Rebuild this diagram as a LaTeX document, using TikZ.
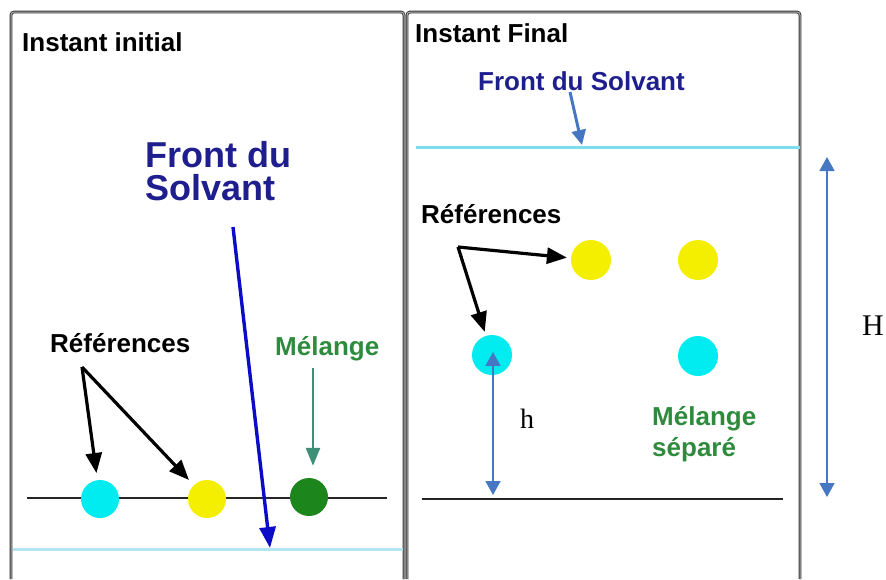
\documentclass[tikz,border=0pt]{standalone}
\usepackage{fontspec}
\setmainfont{Liberation Sans}
\newfontfamily\timesfont{Liberation Serif}
\usetikzlibrary{arrows.meta,positioning,calc}
\definecolor{ccmcyan}{HTML}{00ECF0}
\definecolor{ccmyellow}{HTML}{F4EE00}
\definecolor{ccmgreen}{HTML}{1C861C}
\definecolor{ccmmix}{HTML}{2E8B3E}
\definecolor{ccmmixarr}{HTML}{3E8F78}
\definecolor{ccmnavy}{HTML}{1E1E8E}
\definecolor{ccmblue}{HTML}{0C0CC8}
\definecolor{ccmword}{HTML}{4677C2}
\definecolor{ccmfrontA}{HTML}{B4E6F0}
\definecolor{ccmfrontB}{HTML}{7EDFEC}
\tikzset{
  lbl/.style={font=\bfseries\fontsize{26}{31}\selectfont, inner sep=0pt, align=left},
  big/.style={font=\bfseries\fontsize{36}{33}\selectfont, inner sep=0pt, align=left},
  serif/.style={font=\timesfont\fontsize{28}{30}\selectfont, inner sep=0pt},
  dot/.style={circle, minimum size=38pt, inner sep=0pt},
  panel/.style={draw=black!80, line width=0.9pt, double=black!30, double distance=1pt, rounded corners=3pt},
  base/.style={draw=black!85, line width=1.6pt},
  refarr/.style={-{Triangle[length=20pt,width=16pt]}, line width=3.2pt, color=black},
  mixarr/.style={-{Triangle[length=18pt,width=14pt]}, line width=2.6pt, color=ccmmixarr},
  frontarr/.style={-{Triangle[length=21pt,width=16pt]}, line width=3.4pt, color=ccmblue},
  wordarr/.style={-{Triangle[length=15pt,width=14pt]}, line width=3pt, color=ccmword},
  dim/.style={{Triangle[length=14pt,width=15pt]}-{Triangle[length=14pt,width=15pt]}, line width=1.6pt, color=ccmword},
}
\begin{document}
\begin{tikzpicture}[x=1pt, y=-1pt]
  \useasboundingbox (0,0) rectangle (886,579);
  % the two plates
  \draw[panel] (11,579) -- (11,12) -- (404,12) -- (404,579);
  \draw[panel] (407,579) -- (407,12) -- (800,12) -- (800,579);

  % initial instant
  \node[lbl, anchor=base west] (tinit) at (22,51) {Instant initial};
  \node[big, anchor=north west, text=ccmnavy] (frontl) at (145,141) {Front du\\Solvant};
  \node[lbl, anchor=base west] (refl) at (50,352) {Références};
  \node[lbl, anchor=base west, text=ccmmix] (mixl) at (275,355) {Mélange};
  \draw[draw=ccmfrontA, line width=3pt] (13,549) -- (403,549);
  \draw[base] (27,498) -- (387,498);
  \node[dot, fill=ccmcyan] (c1) at (100,499) {};
  \node[dot, fill=ccmyellow] (y1) at (207,499) {};
  \node[dot, fill=ccmgreen] (g1) at (309,497) {};
  \coordinate (apexl) at (82,367);
  \coordinate (mixtop) at (313,368);
  \coordinate (ftop) at (233,227);
  \coordinate (ftip) at (270,548);
  \foreach \d in {c1,y1} \draw[refarr, shorten >=7pt] (apexl) -- (\d);
  \draw[mixarr, shorten >=12pt] (mixtop) -- (mixtop |- g1.north);
  \draw[frontarr] (ftop) -- (ftip);

  % final instant
  \node[lbl, anchor=base west] (tfinal) at (415,42) {Instant Final};
  \node[lbl, anchor=base west, text=ccmnavy] (frontr) at (478,90) {Front du Solvant};
  \node[lbl, anchor=base west] (refr) at (421,223) {Références};
  \node[lbl, anchor=north west, text=ccmmix] (mixr) at (652,406) {Mélange\\séparé};
  \draw[draw=ccmfrontB, line width=3pt] (416,147) -- (800,147);
  \draw[base] (422,499) -- (783,499);
  \node[dot, minimum size=40pt, fill=ccmyellow] (y2) at (591,260) {};
  \node[dot, minimum size=40pt, fill=ccmyellow] (y3) at (698,260) {};
  \node[dot, minimum size=40pt, fill=ccmcyan] (c2) at (492,355) {};
  \node[dot, minimum size=40pt, fill=ccmcyan] (c3) at (698,356) {};
  \coordinate (apexr) at (458,247);
  \coordinate (rtop) at (570,92);
  \coordinate (rtip) at (582,145);
  \foreach \d in {y2,c2} \draw[refarr, shorten >=4pt] (apexr) -- (\d);
  \draw[wordarr] (rtop) -- (rtip);

  % heights
  \coordinate (htop) at (493,352);
  \coordinate (hbot) at (493,495);
  \coordinate (Htop) at (827,157);
  \coordinate (Hbot) at (827,497);
  \draw[dim] (htop) -- (hbot);
  \draw[dim] (Htop) -- (Hbot);
  \node[serif, anchor=base west] (hlbl) at (520,428) {h};
  \node[serif, font=\timesfont\fontsize{30}{32}\selectfont, anchor=base west] (Hlbl) at (862,335) {H};
\end{tikzpicture}
\end{document}
